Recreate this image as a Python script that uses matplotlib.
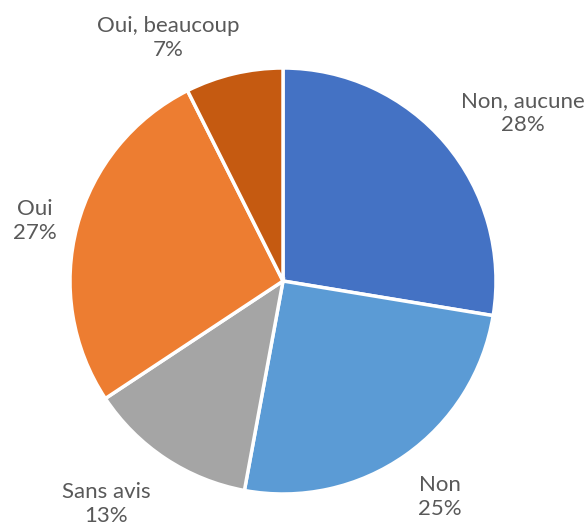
import matplotlib.pyplot as plt

labels = ['Non, aucune', 'Non', 'Sans avis', 'Oui', 'Oui, beaucoup']
# slice sizes; the chart prints rounded percentages
values = [27.6, 25.3, 12.8, 26.9, 7.4]
pct_labels = ['28%', '25%', '13%', '27%', '7%']
colors = ['#4472C4', '#5B9BD5', '#A5A5A5', '#ED7D31', '#C55A11']

# hand-placed label positions (data units, pie radius = 1)
label_pos = [(1.127, 0.789), (0.737, -1.014), (-0.831, -1.047), (-1.164, 0.282), (-0.54, 1.141)]

plt.rcParams['font.family'] = ['Lato', 'DejaVu Sans']

fig = plt.figure(figsize=(5.88, 5.29), dpi=100)
ax = fig.add_axes([70 / 588, 35 / 529, 426 / 588, 426 / 529])

ax.pie(values, colors=colors, startangle=90, counterclock=False,
       wedgeprops=dict(edgecolor='white', linewidth=2.5))

for lab, pct, (x, y) in zip(labels, pct_labels, label_pos):
    ax.text(x, y, f'{lab}\n{pct}', ha='center', va='center',
            fontsize=16, color='#595959', linespacing=1.2)

ax.set_xlim(-1, 1)
ax.set_ylim(-1, 1)
ax.axis('off')

plt.savefig('out.png', dpi=100)
